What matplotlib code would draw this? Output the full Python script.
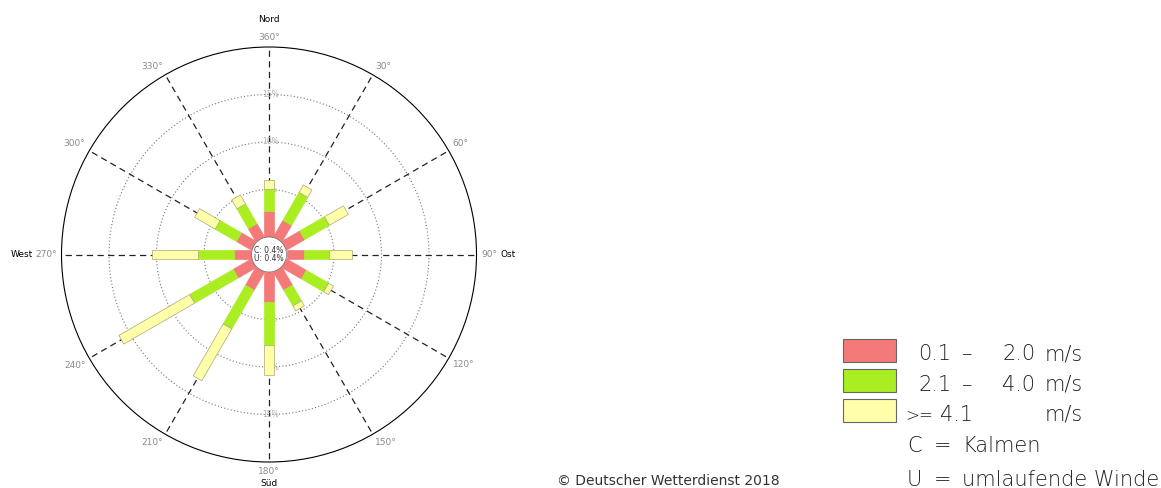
"""
Wind rose (Windrichtungsverteilung) drawn with plain matplotlib patches.
"""
import numpy as np
import matplotlib

matplotlib.use("Agg")
import matplotlib.pyplot as plt
from matplotlib.patches import Rectangle, Circle
from matplotlib.transforms import Affine2D

# Directions in degrees (clockwise from north) and frequencies in percent
directions = [0, 30, 60, 90, 120, 150, 180, 210, 240, 270, 300, 330]
dir_labels = ["360°", "30°", "60°", "90°", "120°", "150°",
              "180°", "210°", "240°", "270°", "300°", "330°"]
low_speed = [2.7, 2.0, 2.2, 1.8, 2.4, 2.2, 3.2, 2.2, 2.2, 1.8, 1.8, 1.6]
mid_speed = [2.4, 3.4, 3.0, 2.7, 2.7, 1.9, 4.5, 4.7, 5.3, 3.8, 2.6, 2.4]
high_speed = [0.9, 0.9, 2.3, 2.4, 0.6, 0.6, 3.1, 6.3, 8.6, 4.9, 2.5, 1.1]
ring_values = [5, 10, 15]
ring_labels = ["5%", "10%", "15%"]
outer_value = 20
calm_text = ["C: 0.4%", "U: 0.4%"]

speed_labels = [["0.1", "–", "2.0", "m/s"],
                ["2.1", "–", "4.0", "m/s"],
                [">=", "4.1", "m/s"]]
colors = ["#F47A7A", "#AAEE22", "#FFFFAA"]
edge_colors = ["#F47A7A", "#AAEE22", "#A8A870"]

# Layout: pixel based, 9.5 px per percent, centre of rose at (269, 254.5)
W, H, DPI = 1161, 488, 100
PX = 9.5
CX, CY = 269.0, 254.5
HOLE = 17.5 / PX  # white centre circle, bars start here
BAR_W = 1.05

fig = plt.figure(figsize=(W / DPI, H / DPI), dpi=DPI)
ax_w = 540
ax = fig.add_axes([0, 0, ax_w / W, 1])
ax.set_xlim(-CX / PX, (ax_w - CX) / PX)
ax.set_ylim((CY - H) / PX, CY / PX)
ax.axis("off")


def polar_xy(angle_deg, r):
    """Meteorological angle (clockwise from north) -> cartesian."""
    a = np.deg2rad(angle_deg)
    return r * np.sin(a), r * np.cos(a)


# Rings and outer circle
for rv, rl in zip(ring_values, ring_labels):
    ax.add_patch(Circle((0, 0), HOLE + rv, fill=False, ec="#777777",
                        lw=0.8, ls=(0, (1, 2)), zorder=1))
    for sign in (1, -1):
        ax.text(0.2, sign * (HOLE + rv), rl, ha="center", va="center",
                fontsize=5.5, color="#b0b0b0", zorder=2)
R_OUT = HOLE + outer_value
ax.add_patch(Circle((0, 0), R_OUT, fill=False, ec="black", lw=0.8, zorder=2))

# Radial dashed lines and direction labels
for d, lab in zip(directions, dir_labels):
    x0, y0 = polar_xy(d, HOLE)
    x1, y1 = polar_xy(d, R_OUT)
    ax.plot([x0, x1], [y0, y1], color="#222222", lw=0.9,
            ls=(0, (5, 3.5)), zorder=1)
    s, c = np.sin(np.deg2rad(d)), np.cos(np.deg2rad(d))
    ha = "left" if s > 0.1 else ("right" if s < -0.1 else "center")
    va = "bottom" if c > 0.1 else ("top" if c < -0.1 else "center")
    tx, ty = polar_xy(d, 212 / PX)
    ax.text(tx, ty, lab, ha=ha, va=va, fontsize=6.5, color="#8a8a8a")

# Compass names
ax.text(0, (CY - 20) / PX, "Nord", ha="center", va="center", fontsize=6.5)
ax.text(0, (CY - 484) / PX, "Süd", ha="center", va="center", fontsize=6.5)
ax.text((22 - CX) / PX, 0, "West", ha="center", va="center", fontsize=6.5)
ax.text((508 - CX) / PX, 0, "Ost", ha="center", va="center", fontsize=6.5)

# Stacked bars along each direction
for i, d in enumerate(directions):
    start = HOLE
    for k, vals in enumerate([low_speed, mid_speed, high_speed]):
        length = vals[i]
        rect = Rectangle((-BAR_W / 2, start), BAR_W, length,
                         fc=colors[k], ec=edge_colors[k], lw=0.5, zorder=3)
        rect.set_transform(Affine2D().rotate_deg(-d) + ax.transData)
        ax.add_patch(rect)
        start += length

# Centre circle with calms
ax.add_patch(Circle((0, 0), HOLE, fc="white", ec="#666666", lw=0.5, zorder=4))
ax.text(0, 0.45, calm_text[0], ha="center", va="center", fontsize=5.5,
        color="#333333", zorder=5)
ax.text(0, -0.45, calm_text[1], ha="center", va="center", fontsize=5.5,
        color="#333333", zorder=5)

"""
========================= Legend =========================
"""


def fig_text(x_px, y_px, s, **kw):
    fig.text(x_px / W, 1 - y_px / H, s, **kw)


box_tops = [339, 369, 399]
for k, top in enumerate(box_tops):
    fig.patches.append(Rectangle((843 / W, 1 - (top + 22.5) / H),
                                 53 / W, 22.5 / H, fc=colors[k],
                                 ec="#666666", lw=0.8,
                                 transform=fig.transFigure, figure=fig))

text_y = [354, 385, 415, 446, 480]
leg_kw = dict(fontsize=15, color="#222222", va="center", fontweight="light")
for y, parts in zip(text_y[:2], speed_labels[:2]):
    for x, s in zip([918, 962, 1002, 1045], parts):
        fig_text(x, y, s, **leg_kw)
# ">=" row is a bit narrower in the original
fig_text(905, text_y[2], speed_labels[2][0], **dict(leg_kw, fontsize=12))
for x, s in zip([940, 1045], speed_labels[2][1:]):
    fig_text(x, text_y[2], s, **leg_kw)
for y, parts in zip(text_y[3:], [["C", "=", "Kalmen"],
                                 ["U", "=", "umlaufende Winde"]]):
    for x, s in zip([907, 934, 962], parts):
        fig_text(x, y, s, **leg_kw)

fig_text(557, 481, "© Deutscher Wetterdienst 2018", fontsize=10,
         color="#333333", va="center")

fig.savefig("out.png", dpi=DPI, facecolor="white")
